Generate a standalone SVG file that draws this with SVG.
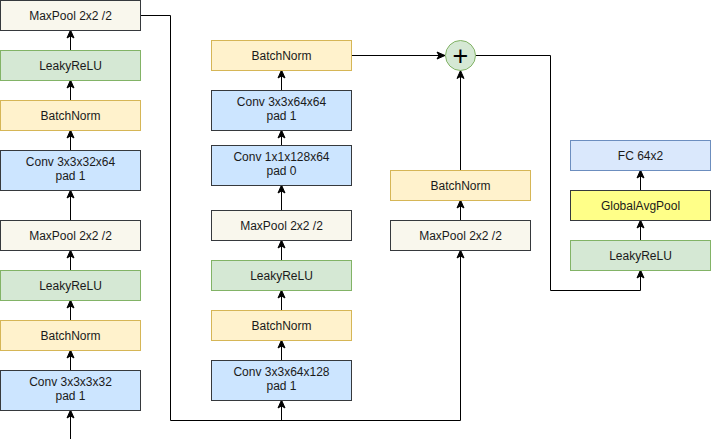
<svg xmlns="http://www.w3.org/2000/svg" width="711" height="439" viewBox="0 0 711 439">
<style>
rect{stroke-width:1}
.conv{fill:#cce5ff;stroke:#36393d}
.bn{fill:#fff2cc;stroke:#d6b656}
.relu{fill:#d5e8d4;stroke:#82b366}
.pool{fill:#f9f7ed;stroke:#36393d}
.fc{fill:#dae8fc;stroke:#6c8ebf}
.gap{fill:#ffff88;stroke:#36393d}
text{font-family:"Liberation Sans",Arial,sans-serif;font-size:12px;fill:#1a1a1a;text-anchor:middle}
.c path{fill:none;stroke:#000;stroke-width:1}
</style>
<defs>
<marker id="a" markerUnits="userSpaceOnUse" markerWidth="10" markerHeight="10" viewBox="0 0 10 10" refX="9" refY="5" orient="auto">
<path d="M1,1.5 L9,5 L1,8.5 L3,5 Z" fill="#000" stroke="#000" stroke-width="1"/>
</marker>
</defs>
<g class="c" id="connectors">
<path d="M70.5,439 V410" marker-end="url(#a)"/>
<path d="M70.5,370 V350" marker-end="url(#a)"/>
<path d="M70.5,320 V300" marker-end="url(#a)"/>
<path d="M70.5,270 V250" marker-end="url(#a)"/>
<path d="M70.5,220 V190" marker-end="url(#a)"/>
<path d="M70.5,150 V130" marker-end="url(#a)"/>
<path d="M70.5,100 V80" marker-end="url(#a)"/>
<path d="M70.5,50 V30" marker-end="url(#a)"/>
<path d="M140.5,15.5 H170.5 V420.5 H460.5 V250" marker-end="url(#a)"/>
<path d="M281.5,420.5 V400" marker-end="url(#a)"/>
<path d="M281.5,360 V340" marker-end="url(#a)"/>
<path d="M281.5,310 V290" marker-end="url(#a)"/>
<path d="M281.5,260 V240" marker-end="url(#a)"/>
<path d="M281.5,210 V185" marker-end="url(#a)"/>
<path d="M281.5,145 V130" marker-end="url(#a)"/>
<path d="M281.5,90 V70" marker-end="url(#a)"/>
<path d="M351.5,55.5 H445" marker-end="url(#a)"/>
<path d="M460.5,220 V200" marker-end="url(#a)"/>
<path d="M460.5,170 V70.5" marker-end="url(#a)"/>
<path d="M475.5,55.5 H550.5 V290.5 H640.5 V270" marker-end="url(#a)"/>
<path d="M640.5,240 V220" marker-end="url(#a)"/>
<path d="M640.5,190 V170" marker-end="url(#a)"/>
</g>
<g id="l_pool2"><rect class="pool" x="0.5" y="0.5" width="140" height="30"/><text x="70.5" y="19.5">MaxPool 2x2 /2</text></g>
<g id="l_relu2"><rect class="relu" x="0.5" y="50.5" width="140" height="30"/><text x="70.5" y="69.5">LeakyReLU</text></g>
<g id="l_bn2"><rect class="bn" x="0.5" y="100.5" width="140" height="30"/><text x="70.5" y="119.5">BatchNorm</text></g>
<g id="l_conv2"><rect class="conv" x="0.5" y="150.5" width="140" height="40"/><text x="70.5" y="166">Conv 3x3x32x64</text><text x="70.5" y="180">pad 1</text></g>
<g id="l_pool1"><rect class="pool" x="0.5" y="220.5" width="140" height="30"/><text x="70.5" y="239.5">MaxPool 2x2 /2</text></g>
<g id="l_relu1"><rect class="relu" x="0.5" y="270.5" width="140" height="30"/><text x="70.5" y="289.5">LeakyReLU</text></g>
<g id="l_bn1"><rect class="bn" x="0.5" y="320.5" width="140" height="30"/><text x="70.5" y="339.5">BatchNorm</text></g>
<g id="l_conv1"><rect class="conv" x="0.5" y="370.5" width="140" height="40"/><text x="70.5" y="386">Conv 3x3x3x32</text><text x="70.5" y="400">pad 1</text></g>
<g id="m_bn2"><rect class="bn" x="211.5" y="40.5" width="140" height="30"/><text x="281.5" y="59.5">BatchNorm</text></g>
<g id="m_conv3"><rect class="conv" x="211.5" y="90.5" width="140" height="40"/><text x="281.5" y="106">Conv 3x3x64x64</text><text x="281.5" y="120">pad 1</text></g>
<g id="m_conv2"><rect class="conv" x="211.5" y="145.5" width="140" height="40"/><text x="281.5" y="161">Conv 1x1x128x64</text><text x="281.5" y="175">pad 0</text></g>
<g id="m_pool"><rect class="pool" x="211.5" y="210.5" width="140" height="30"/><text x="281.5" y="229.5">MaxPool 2x2 /2</text></g>
<g id="m_relu"><rect class="relu" x="211.5" y="260.5" width="140" height="30"/><text x="281.5" y="279.5">LeakyReLU</text></g>
<g id="m_bn1"><rect class="bn" x="211.5" y="310.5" width="140" height="30"/><text x="281.5" y="329.5">BatchNorm</text></g>
<g id="m_conv1"><rect class="conv" x="211.5" y="360.5" width="140" height="40"/><text x="281.5" y="376">Conv 3x3x64x128</text><text x="281.5" y="390">pad 1</text></g>
<g id="s_bn"><rect class="bn" x="390.5" y="170.5" width="140" height="30"/><text x="460.5" y="189.5">BatchNorm</text></g>
<g id="s_pool"><rect class="pool" x="390.5" y="220.5" width="140" height="30"/><text x="460.5" y="239.5">MaxPool 2x2 /2</text></g>
<g id="sum"><circle cx="460.5" cy="55.5" r="15" fill="#d5e8d4" stroke="#82b366"/><text x="460.5" y="64.5" style="font-size:27px;fill:#000">+</text></g>
<g id="r_fc"><rect class="fc" x="570.5" y="140.5" width="140" height="30"/><text x="640.5" y="159.5">FC 64x2</text></g>
<g id="r_gap"><rect class="gap" x="570.5" y="190.5" width="140" height="30"/><text x="640.5" y="209.5">GlobalAvgPool</text></g>
<g id="r_relu"><rect class="relu" x="570.5" y="240.5" width="140" height="30"/><text x="640.5" y="259.5">LeakyReLU</text></g>
</svg>
